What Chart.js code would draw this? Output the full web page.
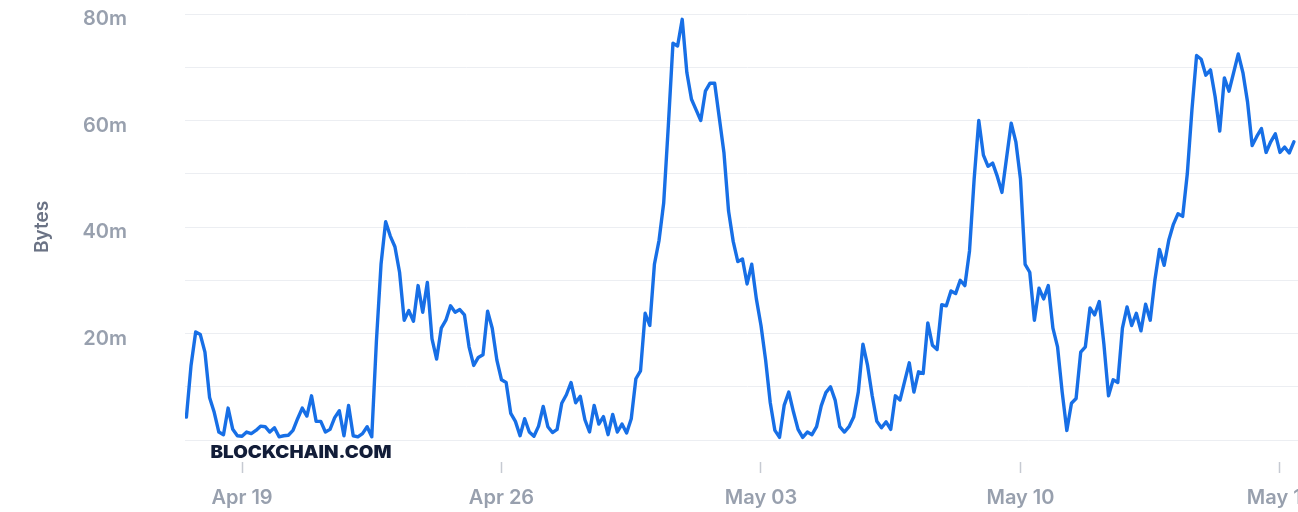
<!DOCTYPE html>
<html>
<head>
<meta charset="utf-8">
<title>Mempool Size</title>
<script src="https://cdn.jsdelivr.net/npm/chart.js@4.4.0/dist/chart.umd.min.js"></script>
<style>
  html, body { margin: 0; padding: 0; overflow: hidden; background: #fff; }
  #wrap { width: 1340px; height: 512px; }
</style>
</head>
<body>
<div id="wrap"><canvas id="mempoolChart"></canvas></div>
<script>
// Mempool size in millions of bytes, one reading every 3 hours,
// first reading Apr 17 12:00 (days are counted from Apr 19 00:00)
const startDay = -1.5;
const stepDays = 0.125;

const partApr17 = [4.3, 14, 20.3, 19.8, 16.5, 8, 5.2, 1.5, 1.0, 6.0, 2.0, 0.8];
const weekApr19 = [
  0.7, 1.5, 1.2, 1.8, 2.6, 2.5, 1.5, 2.3, 0.6, 0.8, 0.9, 1.8, 4.0, 6.0,
  4.5, 8.3, 3.5, 3.5, 1.5, 2.0, 4.2, 5.5, 0.8, 6.5, 0.8, 0.6, 1.2, 2.5,
  0.6, 18.5, 33, 41, 38.3, 36.3, 31.5, 22.5, 24.3, 22.3, 29, 24, 29.6, 19,
  15.2, 21, 22.5, 25.2, 24, 24.5, 23.5, 17.5, 14, 15.5, 16, 24.2, 21, 15
];
const weekApr26 = [
  11.3, 10.8, 5, 3.5, 0.8, 4.0, 1.5, 0.7, 2.6, 6.3, 2.5, 1.4, 2.0, 6.9,
  8.5, 10.8, 7, 8.2, 3.8, 1.5, 6.5, 3.0, 4.4, 1.0, 4.8, 1.5, 3.0, 1.3,
  4.0, 11.5, 13, 23.8, 21.5, 33, 37.5, 44.5, 59, 74.5, 74, 79, 69, 64,
  62, 60, 65.5, 67, 67, 60.5, 54, 43, 37.3, 33.5, 34, 29.3, 33, 26.5
];
const weekMay03 = [
  21.5, 15, 7, 1.8, 0.5, 6.5, 9.0, 5.3, 2.0, 0.5, 1.5, 1.0, 2.5, 6.4,
  8.9, 10, 7.5, 2.5, 1.5, 2.5, 4.3, 9.0, 18, 14, 8.3, 3.5, 2.3, 3.4,
  2.0, 8.3, 7.5, 11, 14.5, 9, 12.8, 12.5, 22, 17.8, 17, 25.4, 25.2, 28,
  27.5, 30, 29, 35.5, 49, 60, 53.5, 51.4, 52, 49.5, 46.5, 53, 59.5, 56
];
const weekMay10 = [
  49, 33, 31.5, 22.5, 28.5, 26.5, 29, 21, 17.5, 9, 1.8, 6.9, 7.8, 16.5,
  17.5, 24.8, 23.5, 26, 18, 8.3, 11.3, 10.8, 21, 25, 21.5, 23.8, 20.5, 25.5,
  22.5, 30, 35.8, 32.8, 37.5, 40.5, 42.5, 42, 50, 62, 72.2, 71.5, 68.5, 69.5,
  64.5, 58, 68, 65.5, 69, 72.5, 69, 63.5, 55.3, 57, 58.5, 54, 56, 57.5
];
const partMay17 = [54, 55, 53.9, 56];

const tickDays = [0, 7, 14, 21, 28];
const tickLabels = ['Apr 19', 'Apr 26', 'May 03', 'May 10', 'May 17'];
const yGridValues = [0, 10, 20, 30, 40, 50, 60, 70, 80];
const yLabelled = [20, 40, 60, 80];

const mempool = [].concat(partApr17, weekApr19, weekApr26, weekMay03, weekMay10, partMay17);
const points = mempool.map((v, i) => ({ x: startDay + i * stepDays, y: v * 1e6 }));

const labelFont = { family: 'Inter', size: 20, weight: '600' };

// axis title and watermark
const overlayText = {
  id: 'overlayText',
  afterDraw(chart) {
    const { ctx, chartArea, scales } = chart;
    const yMid = (scales.y.getPixelForValue(0) + scales.y.getPixelForValue(80e6)) / 2;

    ctx.save();
    ctx.translate(42, yMid);
    ctx.rotate(-Math.PI / 2);
    ctx.font = '600 19px Inter';
    ctx.fillStyle = '#6b7385';
    ctx.textAlign = 'center';
    ctx.textBaseline = 'middle';
    ctx.fillText('Bytes', 0, 0);
    ctx.restore();

    ctx.save();
    ctx.font = '900 17px Inter';
    ctx.fillStyle = '#121d38';
    ctx.textBaseline = 'middle';
    const text = 'BLOCKCHAIN.COM';
    const w = ctx.measureText(text).width;
    ctx.translate(chartArea.left + 25.5, scales.y.getPixelForValue(0) + 13);
    ctx.scale(181 / w, 1);
    ctx.fillText(text, 0, 0);
    ctx.restore();
  }
};

new Chart(document.getElementById('mempoolChart'), {
  type: 'line',
  data: {
    datasets: [{
      data: points,
      borderColor: '#176fe6',
      borderWidth: 3.4,
      borderJoinStyle: 'round',
      borderCapStyle: 'round',
      pointRadius: 0,
      tension: 0,
      fill: false
    }]
  },
  options: {
    responsive: true,
    maintainAspectRatio: false,
    animation: false,
    layout: { padding: { top: 14, right: 30, bottom: 0, left: 0 } },
    plugins: {
      legend: { display: false },
      tooltip: { enabled: false }
    },
    scales: {
      x: {
        type: 'linear',
        min: -1.538,
        max: 28.81,
        afterBuildTicks: axis => { axis.ticks = tickDays.map(v => ({ value: v })); },
        afterFit: axis => {
          axis.height = 50;
          axis.paddingLeft = 0;
          axis.paddingRight = 0;
        },
        border: { display: false },
        grid: {
          drawOnChartArea: false,
          drawTicks: true,
          tickLength: 11,
          tickColor: '#c6cad2',
          tickWidth: 1.5
        },
        ticks: {
          autoSkip: false,
          maxRotation: 0,
          padding: 13,
          color: '#98a0ae',
          font: labelFont,
          callback: value => tickLabels[tickDays.indexOf(value)]
        }
      },
      y: {
        min: -4.13e6,
        max: 80e6,
        afterBuildTicks: axis => { axis.ticks = yGridValues.map(v => ({ value: v * 1e6 })); },
        afterFit: axis => {
          axis.width = 185;
          axis.paddingTop = 0;
          axis.paddingBottom = 0;
        },
        border: { display: false },
        grid: {
          color: '#eceef2',
          lineWidth: 1,
          drawTicks: false
        },
        ticks: {
          padding: 58,
          labelOffset: 5,
          color: '#98a0ae',
          font: labelFont,
          callback: value => yLabelled.includes(value / 1e6) ? (value / 1e6) + 'm' : ''
        }
      }
    }
  },
  plugins: [overlayText]
});
</script>
</body>
</html>
